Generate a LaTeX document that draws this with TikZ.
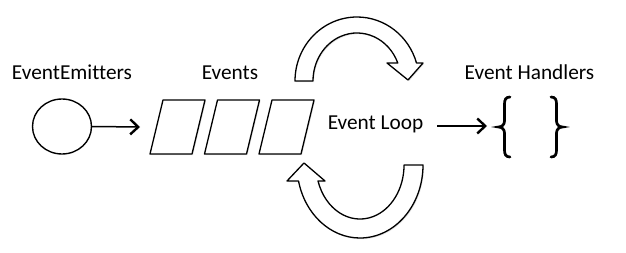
\documentclass[tikz,border=0pt]{standalone}
\usepackage{fontspec}
\setmainfont{Carlito}[Ligatures=CommonOff]
\usetikzlibrary{arrows.meta,shadows,shapes.geometric}
\begin{document}
\begin{tikzpicture}[x=1pt,y=1pt,
  lbl/.style={inner sep=0pt,anchor=base,font=\fontsize{21.3}{24}\selectfont},
  shp/.style={draw=black,line width=1.3pt,fill=white,line join=round,
     drop shadow={opacity=0.22,shadow xshift=1pt,shadow yshift=-1.2pt}},
  conn/.style={line width=1.5pt,-{Straight Barb[length=8pt,width=15pt,line width=2.4pt]}},
  brace/.style={line width=2.7pt,line cap=round}]
\useasboundingbox (0,0) rectangle (626,252);
% labels
\node[lbl] (em) at (72,172) {EventEmitters};
\node[lbl] (ev) at (230,172) {Events};
\node[lbl] (eh) at (529.5,172) {Event Handlers};
\node[lbl] (el) at (375.5,123) {Event Loop};
% emitter
\node[draw,line width=1.4pt,ellipse,minimum width=59pt,minimum height=55pt,inner sep=0pt,fill=white] (src) at (62,125.5) {};
% queue of events
\foreach \i/\x in {1/150,2/204.5,3/259}{
  \draw[shp] (\x,98) -- (\x+13,152) -- (\x+55,152) -- (\x+42,98) -- cycle;
}
\coordinate (q1) at (140,125);
\draw[conn] (src.east) -- (q1);
% top loop arrow
\draw[shp] (295,171) arc[start angle=180,end angle=16.3,x radius=62,y radius=64]
  -- (423,189) -- (408,172) -- (387,189) -- (397.8,189)
  arc[start angle=22,end angle=180,x radius=44,y radius=48] -- cycle;
% bottom loop arrow
\draw[shp] (423,87) arc[start angle=0,end angle=-167.3,x radius=63,y radius=73]
  -- (287,71) -- (304,89) -- (325,71) -- (318,71)
  arc[start angle=-162.8,end angle=0,x radius=44,y radius=54] -- cycle;
% arrow to handlers
\coordinate (l1) at (437,126);
\coordinate (h1) at (487,126);
\draw[conn] (l1) -- (h1);
% braces
\draw[brace] (510,155) .. controls (505.5,155) and (504.5,152) .. (504.5,148) -- (504.5,131)
  .. controls (504.5,127.5) and (502,125) .. (498.5,125)
  .. controls (502,125) and (504.5,122.5) .. (504.5,119) -- (504.5,102)
  .. controls (504.5,98) and (505.5,95) .. (510,95);
\draw[brace] (551,155) .. controls (555.5,155) and (556.5,152) .. (556.5,148) -- (556.5,131)
  .. controls (556.5,127.5) and (559,125) .. (562.5,125)
  .. controls (559,125) and (556.5,122.5) .. (556.5,119) -- (556.5,102)
  .. controls (556.5,98) and (555.5,95) .. (551,95);
\end{tikzpicture}
\end{document}
